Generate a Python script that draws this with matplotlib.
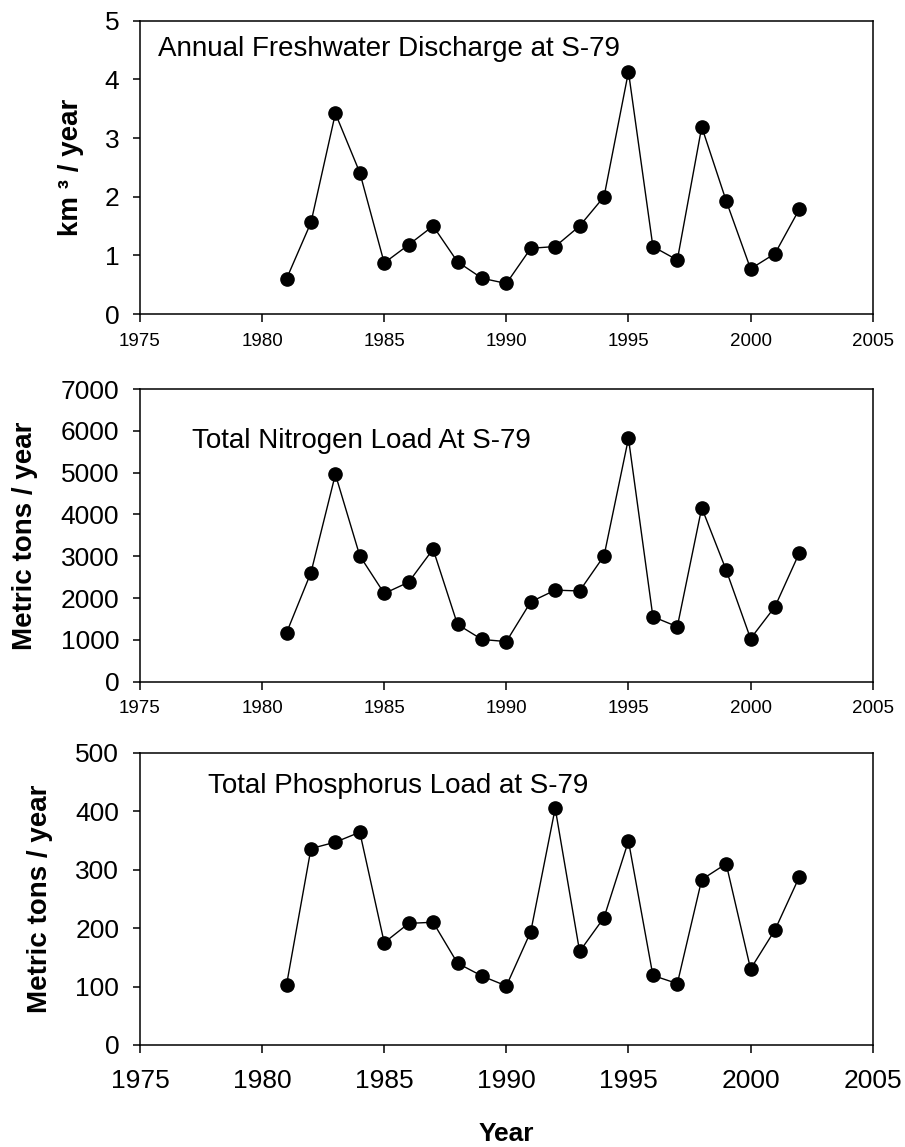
import matplotlib
matplotlib.use('Agg')
import matplotlib.pyplot as plt

plt.rcParams['font.family'] = ['Liberation Sans', 'DejaVu Sans']

# ---- data ----
years = list(range(1981, 2003))
discharge = [0.60, 1.56, 3.42, 2.41, 0.87, 1.18, 1.50, 0.89, 0.61, 0.52, 1.12,
             1.15, 1.50, 2.00, 4.13, 1.15, 0.92, 3.19, 1.93, 0.77, 1.03, 1.79]
nitrogen = [1170, 2610, 4960, 3010, 2110, 2380, 3170, 1370, 1010, 960, 1910,
            2190, 2170, 3010, 5820, 1555, 1315, 4160, 2670, 1030, 1795, 3085]
phosphorus = [103, 336, 347, 364, 175, 208, 210, 140, 118, 101, 194,
              405, 160, 218, 349, 119, 105, 283, 310, 130, 197, 288]

titles = ["Annual Freshwater Discharge at S-79",
          "Total Nitrogen Load At S-79",
          "Total Phosphorus Load at S-79"]
ylabels = ["km \u00b3 / year", "Metric tons / year", "Metric tons / year"]
yticks_list = [[0, 1, 2, 3, 4, 5],
               [0, 1000, 2000, 3000, 4000, 5000, 6000, 7000],
               [0, 100, 200, 300, 400, 500]]
xticks = [1975, 1980, 1985, 1990, 1995, 2000, 2005]
xlabel = "Year"

W, H = 905, 1147
fig = plt.figure(figsize=(W / 100, H / 100), dpi=100)


def fx(px):
    return px / W


def fy(py):
    return 1 - py / H


# layout (pixels)
left_px, right_px = 140, 872.7
tops = [20.7, 389.0, 752.7]
bottoms = [314.0, 681.7, 1045.0]
title_pos = [(158, 56), (191.7, 448.3), (208, 793.3)]
ylabel_x = [78.5, 32.3, 46.7]
xtick_size = [13.5, 13.5, 19]
xtick_pad = [7.5, 7.5, 11]

series = [discharge, nitrogen, phosphorus]

for i in range(3):
    ax = fig.add_axes([fx(left_px), fy(bottoms[i]),
                       fx(right_px) - fx(left_px), (bottoms[i] - tops[i]) / H])
    ax.plot(years, series[i], '-o', color='black', lw=1.0, ms=9.5,
            mfc='black', mec='black', clip_on=False)
    ax.set_xlim(1975, 2005)
    ax.set_xticks(xticks)
    ax.set_ylim(yticks_list[i][0], yticks_list[i][-1])
    ax.set_yticks(yticks_list[i])
    for s in ax.spines.values():
        s.set_linewidth(1.1)
    ax.tick_params(axis='both', direction='out', width=1.1, color='black')
    ax.tick_params(axis='y', length=5, labelsize=19, pad=10)
    ax.tick_params(axis='x', length=6, labelsize=xtick_size[i], pad=xtick_pad[i])
    fig.text(fx(title_pos[i][0]), fy(title_pos[i][1]), titles[i],
             fontsize=20, ha='left', va='baseline')
    fig.text(fx(ylabel_x[i]), fy((tops[i] + bottoms[i]) / 2), ylabels[i],
             rotation=90, rotation_mode='anchor', ha='center', va='baseline',
             fontsize=20, fontweight='bold')

fig.text(fx((left_px + right_px) / 2), fy(1141), xlabel, ha='center',
         va='baseline', fontsize=19, fontweight='bold')

fig.savefig('out.png', dpi=100)
